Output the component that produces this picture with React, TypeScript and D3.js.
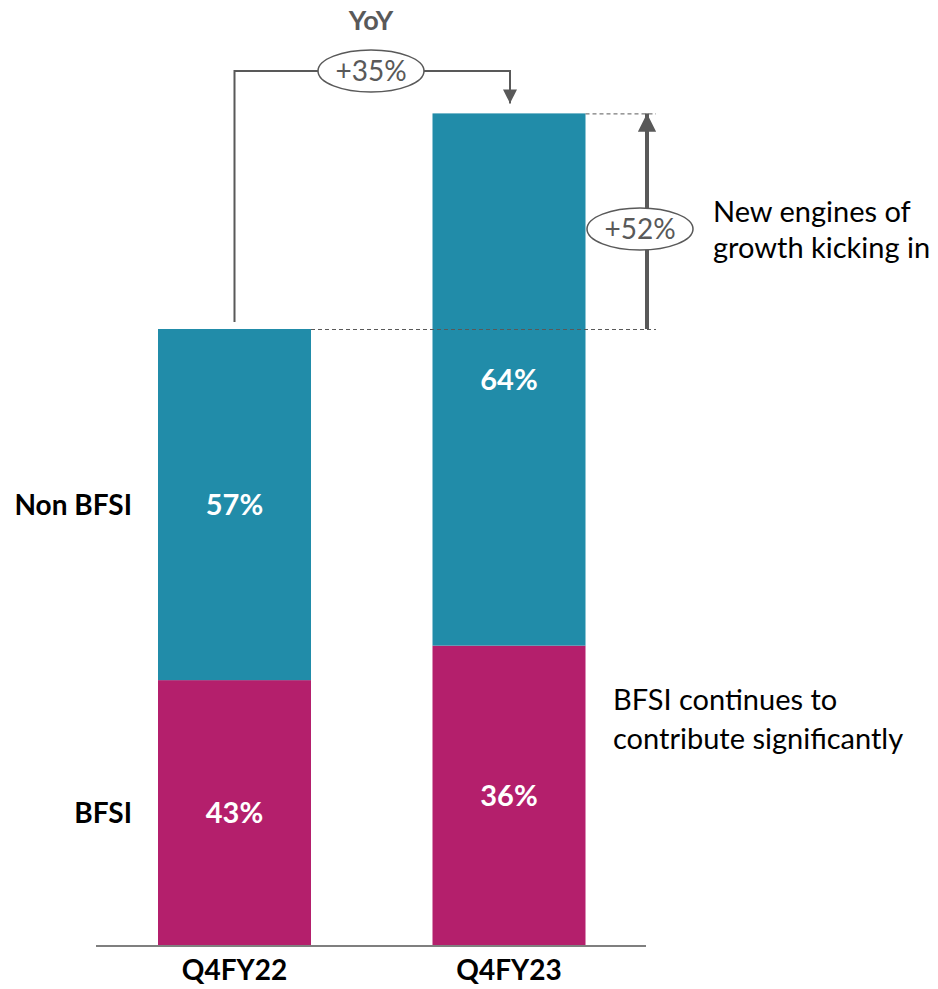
import React from "react";
import * as d3 from "d3";

// Revenue index by quarter (Q4FY22 = 100) and segment shares
const categories = ["Q4FY22", "Q4FY23"];
const totals = [100, 135];
const bfsiShare = [43, 36];
const nonBfsiShare = [57, 64];
const segmentNames = ["BFSI", "Non BFSI"];
const yoyGrowth = "+35%";
const nonBfsiGrowth = "+52%";

const TEAL = "#218ca9";
const MAGENTA = "#b41f6c";
const GREY = "#595959";
const FONT = "Lato, 'Open Sans', sans-serif";

export default function App() {
  const width = 938;
  const height = 989;
  const x = d3.scalePoint<string>().domain(categories).range([234.5, 509]);
  const y = d3.scaleLinear().domain([0, 100]).range([945, 329]);
  const barW = 153;

  const stacked = categories.map((c, i) => {
    const bfsi = (totals[i] * bfsiShare[i]) / 100;
    const non = (totals[i] * nonBfsiShare[i]) / 100;
    return {
      cat: c,
      segs: [
        { name: segmentNames[0], y0: 0, y1: bfsi, share: bfsiShare[i], color: MAGENTA },
        { name: segmentNames[1], y0: bfsi, y1: bfsi + non, share: nonBfsiShare[i], color: TEAL },
      ],
    };
  });

  const c0 = x(categories[0])!;
  const c1 = x(categories[1])!;
  const top0 = y(totals[0]);
  const top1 = y(totals[1]);
  const yoyY = 71;
  const arrowX = 647;

  // Row labels sit level with the first bar's segment centres
  const rowLabelY = stacked[0].segs.map((s) => y((s.y0 + s.y1) / 2));

  return (
    <svg width={width} height={height} style={{ position: "absolute", left: 0, top: 0 }}>
      <defs>
        <marker id="tri" viewBox="0 0 10 10" refX="10" refY="5" markerWidth="4.6" markerHeight="4.6" orient="auto">
          <path d="M0,0 L10,5 L0,10 z" fill={GREY} />
        </marker>
        <marker id="triSmall" viewBox="0 0 10 10" refX="10" refY="5" markerWidth="7" markerHeight="7" orient="auto">
          <path d="M0,0 L10,5 L0,10 z" fill={GREY} />
        </marker>
      </defs>
      <rect width={width} height={height} fill="#fff" />

      {stacked.map((b) =>
        b.segs.map((s) => (
          <g key={b.cat + s.name}>
            <rect
              x={x(b.cat)! - barW / 2}
              y={y(s.y1)}
              width={barW}
              height={y(s.y0) - y(s.y1)}
              fill={s.color}
            />
            <text
              x={x(b.cat)!}
              y={y((s.y0 + s.y1) / 2)}
              dy="0.36em"
              textAnchor="middle"
              fill="#fff"
              fontFamily={FONT}
              fontWeight={700}
              fontSize={29}
            >
              {s.share}%
            </text>
          </g>
        ))
      )}

      {/* baseline */}
      <line x1={96} x2={646} y1={y(0) + 1} y2={y(0) + 1} stroke="#7f7f7f" strokeWidth={2} />

      {/* category labels */}
      {categories.map((c) => (
        <text
          key={c}
          x={x(c)!}
          y={980}
          textAnchor="middle"
          fontFamily={FONT}
          fontWeight={700}
          fontSize={28}
          fill="#000"
        >
          {c}
        </text>
      ))}

      {/* segment row labels */}
      {[1, 0].map((k) => (
        <text
          key={segmentNames[k]}
          x={132}
          y={rowLabelY[k]}
          dy="0.36em"
          textAnchor="end"
          fontFamily={FONT}
          fontWeight={700}
          fontSize={28}
          fill="#000"
        >
          {segmentNames[k]}
        </text>
      ))}

      {/* YoY bracket */}
      <path
        d={`M${c0},${top0 - 7} V${yoyY} H${c1 + 1} V${top1 - 10}`}
        fill="none"
        stroke={GREY}
        strokeWidth={2}
        markerEnd="url(#triSmall)"
      />
      <ellipse cx={371} cy={yoyY} rx={53} ry={21} fill="#fff" stroke={GREY} strokeWidth={1.5} />
      <text x={371} y={yoyY} dy="0.36em" textAnchor="middle" fontFamily={FONT} fontSize={28} fill={GREY}>
        {yoyGrowth}
      </text>
      <text x={371} y={20} dy="0.36em" textAnchor="middle" fontFamily={FONT} fontWeight={700} fontSize={27} fill={GREY}>
        YoY
      </text>

      {/* Non BFSI growth marker */}
      <line x1={c0 + barW / 2} x2={656} y1={top0 + 0.5} y2={top0 + 0.5} stroke={GREY} strokeWidth={1} strokeDasharray="4,3" />
      <line x1={c1 + barW / 2} x2={656} y1={top1 + 0.5} y2={top1 + 0.5} stroke={GREY} strokeWidth={1} strokeDasharray="4,3" />
      <line x1={arrowX} x2={arrowX} y1={top0} y2={top1} stroke={GREY} strokeWidth={4} markerEnd="url(#tri)" />
      <ellipse cx={640} cy={229} rx={53} ry={21} fill="#fff" stroke={GREY} strokeWidth={1.5} />
      <text x={640} y={229} dy="0.36em" textAnchor="middle" fontFamily={FONT} fontSize={28} fill={GREY}>
        {nonBfsiGrowth}
      </text>
      <text x={713} y={212} dy="0.36em" fontFamily={FONT} fontSize={29} fill="#000">
        New engines of
      </text>
      <text x={713} y={248} dy="0.36em" fontFamily={FONT} fontSize={29} fill="#000">
        growth kicking in
      </text>

      {/* BFSI commentary */}
      <text x={613} y={700} dy="0.36em" fontFamily={FONT} fontSize={29} fill="#000">
        BFSI continues to
      </text>
      <text x={613} y={739} dy="0.36em" fontFamily={FONT} fontSize={29} fill="#000">
        contribute significantly
      </text>
    </svg>
  );
}
